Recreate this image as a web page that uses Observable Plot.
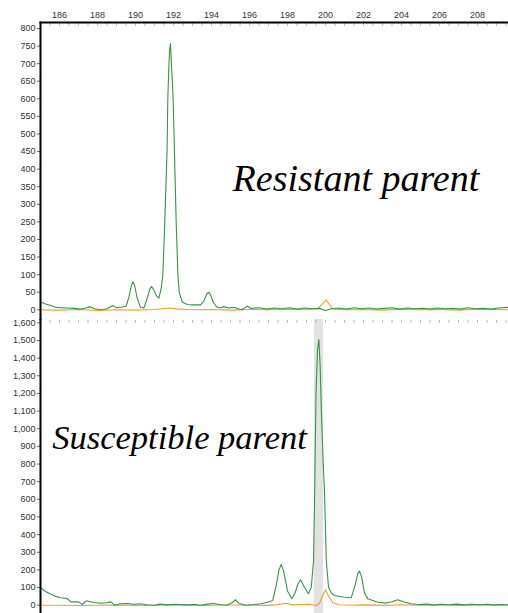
<!DOCTYPE html>
<html>
<head>
<meta charset="utf-8">
<script src="https://cdn.jsdelivr.net/npm/d3@7"></script>
<script src="https://cdn.jsdelivr.net/npm/@observablehq/plot@0.6"></script>
<style>
  html, body { margin: 0; padding: 0; background: #fff; }
  #chart svg { display: block; }
</style>
</head>
<body>
<div id="chart"></div>
<script>
// ---- Data (fragment size in bp, signal in RFU) ----
const sizeTicks = [186, 188, 190, 192, 194, 196, 198, 200, 202, 204, 206, 208];
const topYTicks = [0, 50, 100, 150, 200, 250, 300, 350, 400, 450, 500, 550, 600, 650, 700, 750, 800];
const bottomYTicks = [0, 100, 200, 300, 400, 500, 600, 700, 800, 900, 1000, 1100, 1200, 1300, 1400, 1500, 1600];

// Resistant parent – green trace
const resGreenSize = [185.0,185.3,185.55,185.8,186.1,186.4,186.8,187.1,187.4,187.6,187.85,188.2,188.5,188.8,189.0,189.3,189.5,189.65,189.78,189.86,189.95,190.08,190.26,190.44,190.6,190.75,190.84,190.95,191.1,191.23,191.35,191.44,191.54,191.66,191.7,191.76,191.8,191.84,191.87,191.93,191.98,192.05,192.14,192.23,192.3,192.46,192.72,193.0,193.42,193.6,193.75,193.86,193.95,194.1,194.3,194.5,194.65,194.9,195.16,195.4,195.6,195.88,196.1,196.5,196.9,197.3,197.7,198.1,198.5,198.9,199.3,199.7,200.0,200.3,200.7,201.1,201.5,201.9,202.3,202.7,203.1,203.5,203.9,204.3,204.7,205.1,205.5,205.9,206.3,206.7,207.1,207.5,207.9,208.3,208.7,209.1,209.6];
const resGreenRFU  = [22,16,12,7,6,5,4,2,5,9,3,0,3,12,6,8,10,35,68,80,70,35,7,5,30,58,66,58,40,33,60,100,250,450,600,700,740,757,720,660,600,450,250,100,50,22,15,14,14,25,45,50,42,20,7,6,9,5,7,3,0,10,4,6,2,5,3,6,2,5,3,4,-2,3,5,2,6,3,5,2,4,6,2,5,3,4,2,5,3,4,2,6,3,4,2,5,7];

// Resistant parent – orange trace
const resOrangeSize = [185.0,186,187,188,189,190,191,191.8,192.3,193,194,195,196,197,198,199,199.6,199.8,200.03,200.2,200.4,201,202,203,204,205,206,207,208,209.6];
const resOrangeRFU  = [0,-1,1,-2,0,-1,1,5,2,0,1,-1,1,0,2,0,3,15,28,15,2,0,1,-1,2,0,1,-1,2,0];

// Susceptible parent – green trace
const susGreenSize = [185.0,185.17,185.5,185.8,186.05,186.4,186.6,187.0,187.2,187.4,187.8,188.16,188.5,188.7,188.9,189.2,189.56,189.9,190.26,190.6,190.96,191.3,191.7,192.0,192.37,192.8,193.1,193.4,193.8,194.1,194.5,194.8,195.1,195.26,195.45,195.8,196.26,196.6,196.96,197.22,197.4,197.55,197.67,197.8,198.0,198.23,198.4,198.55,198.68,198.85,199.1,199.25,199.37,199.43,199.46,199.5,199.58,199.65,199.72,199.78,199.88,199.95,200.04,200.16,200.3,200.47,201.0,201.35,201.55,201.7,201.79,201.9,202.05,202.23,202.75,203.2,203.5,203.8,204.1,204.5,204.9,205.3,205.7,206.1,206.5,206.9,207.3,207.7,208.1,208.5,208.9,209.3,209.6];
const susGreenRFU  = [106,83,65,50,42,38,19,19,4,25,15,11,14,19,0,8,10,5,8,3,0,6,2,5,4,2,5,0,6,10,3,0,15,31,10,0,4,8,17,27,110,200,231,190,80,36,70,120,144,110,65,102,253,631,900,1200,1450,1505,1350,1100,800,631,253,102,70,55,45,42,110,180,193,160,70,36,17,12,20,31,20,8,4,6,2,5,3,6,2,5,3,5,2,4,3];

// Susceptible parent – orange trace
const susOrangeSize = [185,186,187,188,189,190,191,192,193,194,195,196,197,197.4,197.93,198.3,198.8,199.2,199.47,199.68,199.85,200.0,200.15,200.38,200.7,201.5,202,203,204,205,206,207,208,209.6];
const susOrangeRFU  = [0,0,-2,0,1,-1,0,1,-1,0,1,0,-1,2,11,2,4,5,-3,10,55,87,55,15,3,0,2,-1,3,0,1,-1,2,0];

// Highlighted bin (bp)
const binStart = [199.42];
const binEnd = [199.9];

// Panel labels
const labelText = ["Resistant parent", "Susceptible parent"];
const labelSize = [201.6, 192.32];
const labelRFU = [372, 950];

// ---- Build ----
const zip = (xs, ys) => xs.map((x, i) => ({size: x, rfu: ys[i]}));
const GREEN = "#3a9445";
const ORANGE = "#f0a030";
const xDomain = [185, 209.63];
const fmt = d3.format(",");

function panel({height, marginTop, yDomain, yTicks, green, orange, label, labelFont, band, topAxis}) {
  const marks = [];
  if (band) {
    marks.push(Plot.rect(binStart.map((s, i) => ({x1: s, x2: binEnd[i]})), {x1: "x1", x2: "x2", fill: "#e2e2e2"}));
  }
  marks.push(
    Plot.line(orange, {x: "size", y: "rfu", stroke: ORANGE, strokeWidth: 1.1, clip: true}),
    Plot.line(green, {x: "size", y: "rfu", stroke: GREEN, strokeWidth: 1.1, clip: true}),
    Plot.text([label], {x: "size", y: "rfu", text: "text", fontFamily: "Liberation Serif, Times New Roman, serif",
      fontStyle: "italic", fontSize: labelFont, fill: "#000", textAnchor: "middle", lineAnchor: "middle"}),
    Plot.axisY(yTicks, {anchor: "left", tickSize: 3, tickPadding: 2, tickFormat: fmt, fontSize: 9,
      fontFamily: "Liberation Sans, Arial, sans-serif", fill: "#333", stroke: "#666", label: null}),
    Plot.axisX(d3.range(185, 210, 0.5), {anchor: "top", tickSize: -3, tickFormat: () => "", stroke: "#bbb", label: null}),
    Plot.frame({anchor: "left", stroke: "#000", strokeWidth: 2})
  );
  if (topAxis) {
    marks.push(
      Plot.axisX(sizeTicks, {anchor: "top", tickSize: 0, tickPadding: 5, fontSize: 9,
        fontFamily: "Liberation Sans, Arial, sans-serif", fill: "#333", label: null}),
      Plot.frame({anchor: "top", stroke: "#000", strokeWidth: 2})
    );
  }
  return Plot.plot({
    width: 508,
    height,
    marginTop,
    marginBottom: 0,
    marginLeft: 40,
    marginRight: 0,
    style: {background: "#fff", overflow: "visible"},
    x: {domain: xDomain},
    y: {domain: yDomain},
    marks
  });
}

const topPanel = panel({
  height: 319, marginTop: 22, yDomain: [-27.6, 817], yTicks: topYTicks,
  green: zip(resGreenSize, resGreenRFU), orange: zip(resOrangeSize, resOrangeRFU),
  label: {text: labelText[0], size: labelSize[0], rfu: labelRFU[0]}, labelFont: 38, band: false, topAxis: true
});
const bottomPanel = panel({
  height: 294, marginTop: 0, yDomain: [-47, 1619], yTicks: bottomYTicks,
  green: zip(susGreenSize, susGreenRFU), orange: zip(susOrangeSize, susOrangeRFU),
  label: {text: labelText[1], size: labelSize[1], rfu: labelRFU[1]}, labelFont: 34.5, band: true, topAxis: false
});
document.getElementById("chart").append(topPanel, bottomPanel);
</script>
</body>
</html>
